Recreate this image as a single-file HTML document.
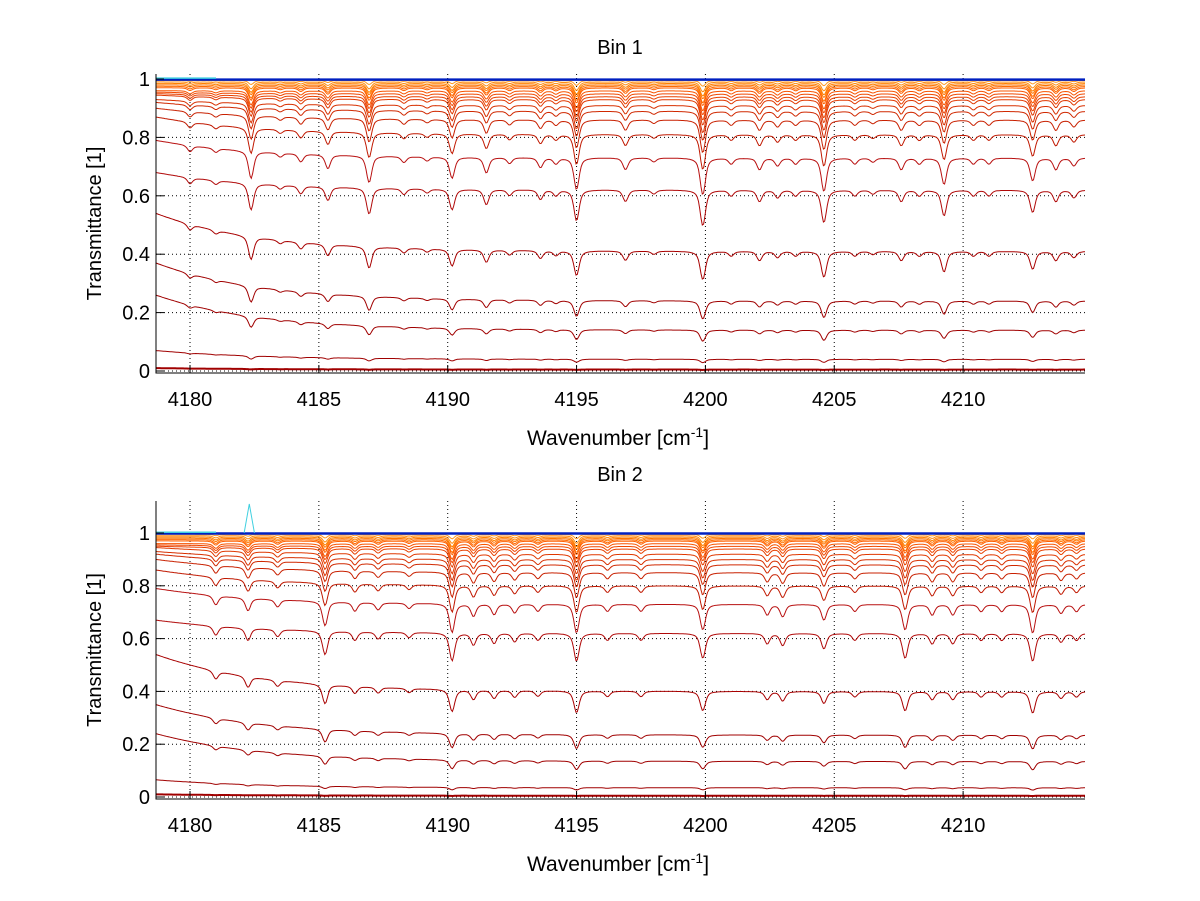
<!DOCTYPE html>
<html><head><meta charset="utf-8"><style>
body{margin:0;background:#fff}
svg{display:block}
text{font-family:"Liberation Sans",sans-serif;fill:#000}
</style></head><body>
<svg id="c" width="1200" height="901" viewBox="0 0 1200 901" xmlns="http://www.w3.org/2000/svg"></svg>
<script>
const xTicks=[4180,4185,4190,4195,4200,4205,4210];
const yTicks=[0,0.2,0.4,0.6,0.8,1];
const yTickLabels=["0","0.2","0.4","0.6","0.8","1"];
const levels=[0.995,0.99,0.985,0.98,0.975,0.97,0.96,0.95,0.94,0.93,0.91,0.89,0.86,0.81,0.73,0.62,0.41,0.24,0.14,0.04,0.005];
const leftLevels1=[0.995,0.99,0.985,0.98,0.975,0.97,0.96,0.955,0.95,0.945,0.93,0.92,0.9,0.87,0.79,0.68,0.54,0.37,0.26,0.07,0.01];
const leftLevels2=[0.995,0.99,0.985,0.98,0.975,0.97,0.96,0.955,0.95,0.945,0.93,0.92,0.9,0.86,0.79,0.67,0.54,0.35,0.24,0.065,0.01];
const levels2=[0.995,0.99,0.985,0.98,0.975,0.97,0.96,0.95,0.94,0.92,0.9,0.88,0.85,0.8,0.73,0.62,0.40,0.235,0.135,0.035,0.005];
const absScale=[0.02,0.035,0.045,0.05,0.06,0.065,0.075,0.08,0.09,0.1,0.11,0.12,0.14,0.16,0.19,0.22,0.27,0.3,0.32,0.34,0.35];
const lineCenters1=[4182.37,4185.35,4186.95,4190.17,4191.5,4193.6,4195.0,4196.9,4199.9,4202.1,4202.8,4204.6,4207.6,4209.26,4211.0,4212.7,4213.6,4180.0,4181.0,4183.5,4184.3,4188.3,4189.2,4192.4,4194.2,4198.0,4201.0,4203.5,4205.8,4206.5,4208.3,4210.4,4214.3];
const lineTau1=[0.7,0.35,0.7,0.55,0.4,0.25,0.85,0.3,1.0,0.3,0.2,0.9,0.3,0.7,0.15,0.6,0.3,0.15,0.1,0.1,0.2,0.15,0.1,0.15,0.15,0.1,0.15,0.15,0.15,0.1,0.15,0.15,0.2];
const lineCenters2=[4185.24,4190.17,4195.0,4199.9,4204.6,4207.75,4212.7,4182.25,4181.0,4183.4,4186.4,4187.3,4188.5,4191.0,4191.8,4192.6,4193.5,4196.2,4197.5,4202.4,4203.0,4205.8,4208.8,4209.6,4210.7,4211.5,4213.8,4214.4];
const lineTau2=[0.7,0.85,0.85,0.75,0.45,0.75,0.85,0.35,0.25,0.2,0.25,0.2,0.15,0.35,0.3,0.25,0.2,0.2,0.2,0.3,0.35,0.2,0.3,0.3,0.2,0.2,0.25,0.2];
const colors=["#ff9a20","#ff8c10","#ff8000","#ff7400","#ff6a00","#ff6000","#f85400","#f04800","#e84000","#e03800","#d83000","#d02800","#c82000","#c01800","#b81010","#b00808","#a80000","#a00000","#a00000","#a00000","#a00000"];
const NS="http://www.w3.org/2000/svg";
const svg=document.getElementById('c');
function el(t,a,p){const e=document.createElementNS(NS,t);for(const k in a)e.setAttribute(k,a[k]);(p||svg).appendChild(e);return e;}
const XMIN=4178.68,XMAX=4214.73;
function panel(cfg){
  const g=el('g',{});
  
  
  const L=156,R=1085;
  const sx=v=>L+(v-XMIN)/(XMAX-XMIN)*(R-L);
  const sy=v=>cfg.y0+(v)*(cfg.y1-cfg.y0);
  xTicks.forEach(t=>{const l=el('line',{x1:sx(t),x2:sx(t),y1:cfg.top,y2:cfg.bot,stroke:'#000','stroke-width':1,'stroke-dasharray':'1,3'},g);
    });
  yTicks.forEach(t=>{const l=el('line',{x1:L,x2:R,y1:sy(t),y2:sy(t),stroke:'#000','stroke-width':1,'stroke-dasharray':'1,3'},g);
    });
  const tau=x=>{let s=0;for(let i=0;i<cfg.centers.length;i++){const d=(x-cfg.centers[i])/0.13;s+=cfg.taus[i]*(0.6/(1+d*d)+0.4*Math.exp(-d*d));}return s;};
  for(let k=levels.length-1;k>=0;k--){
    const lv=cfg.levels[k],lf=cfg.left[k];
    let d='';
    for(let x=XMIN;x<=XMAX+0.001;x+=0.05){
      const base=lv+(lf-lv)*Math.exp(-(x-XMIN)/4);
      const v=base*Math.exp(-absScale[k]*tau(x));
      d+=(d?'L':'M')+sx(x).toFixed(1)+','+sy(v).toFixed(1);
    }
    const p=el('path',{d:d,fill:'none',stroke:colors[k],'stroke-width':k===levels.length-1?2:1},g);
    
    
  }
  const b=el('line',{x1:L,x2:R,y1:sy(0.998),y2:sy(0.998),stroke:'#0020c0','stroke-width':2.5},g);
  
  const cy=el('line',{x1:L,x2:L+60,y1:sy(1.003),y2:sy(1.003),stroke:'#40d0e0','stroke-width':1.5},g);
  
  if(cfg.spike){
    const s=el('path',{d:`M${sx(4182.1)},${sy(1)}L${sx(4182.3)},${sy(cfg.spike)}L${sx(4182.5)},${sy(1)}`,fill:'none',stroke:'#40d0e0','stroke-width':1},g);
    
  }
  const ax=el('path',{d:`M${L},${cfg.top}V${cfg.bot}H${R}`,fill:'none',stroke:'#000','stroke-width':1},g);
  
  xTicks.forEach(t=>{el('line',{x1:sx(t),x2:sx(t),y1:cfg.bot,y2:cfg.bot-8,stroke:'#000'},g);
    const tx=el('text',{x:sx(t),y:cfg.bot+33,'font-size':20,'text-anchor':'middle'},g);tx.textContent=t;
    });
  yTicks.forEach((t,i)=>{el('line',{x1:L,x2:L+8,y1:sy(t),y2:sy(t),stroke:'#000'},g);
    const tx=el('text',{x:L-6,y:sy(t)+7,'font-size':20,'text-anchor':'end'},g);tx.textContent=yTickLabels[i];
    });
  const ti=el('text',{x:620,y:cfg.top-20,'font-size':20,'text-anchor':'middle'},g);ti.textContent=cfg.title;
  
  const yl=el('text',{x:0,y:0,'font-size':20,'text-anchor':'middle',transform:`translate(101,${(cfg.top+cfg.bot)/2}) rotate(-90)`},g);yl.textContent='Transmittance [1]';
  
  const xl=el('text',{x:618,y:cfg.bot+72,'font-size':21,'text-anchor':'middle'},g);
  
  xl.innerHTML='Wavenumber [cm<tspan dy="-8" font-size="14">-1</tspan><tspan dy="8">]</tspan>';
}
panel({name:'bin-1-panel',title:'Bin 1',top:74,bot:373,y0:371,y1:79,levels:levels,left:leftLevels1,centers:lineCenters1,taus:lineTau1});
panel({name:'bin-2-panel',title:'Bin 2',top:501,bot:799,y0:797,y1:533,levels:levels2,left:leftLevels2,centers:lineCenters2,taus:lineTau2,spike:1.11});
</script>
</body></html>
